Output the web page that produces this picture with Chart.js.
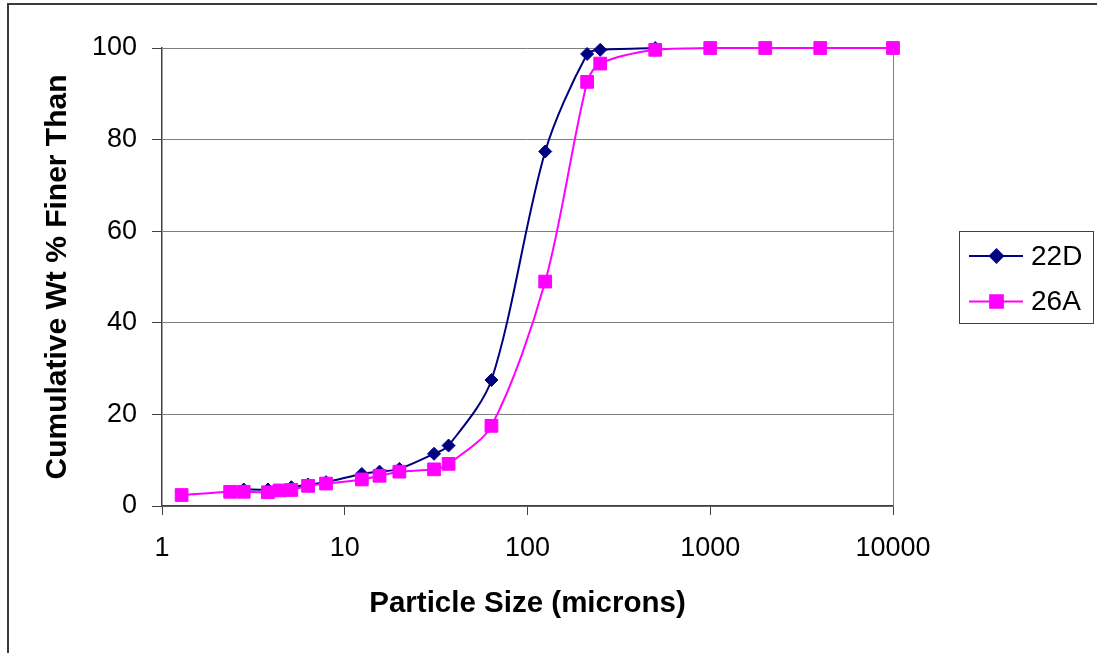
<!DOCTYPE html>
<html>
<head>
<meta charset="utf-8">
<script src="https://cdn.jsdelivr.net/npm/chart.js@4.4.1/dist/chart.umd.min.js"></script>
<style>
  html, body { margin: 0; padding: 0; background: #fff; }
  #wrap { width: 1097px; height: 653px; position: relative; }
</style>
</head>
<body>
<div id="wrap"><canvas id="psd"></canvas></div>
<script>
// particle size (microns) and cumulative wt % finer, per sample
const sizes22D = [2.8, 3.8, 5.1, 6.3, 7.9, 12.4, 15.5, 19.9, 30.8, 37, 63.5, 125, 212, 250, 500];
const finer22D = [3.6, 3.6, 4.1, 4.7, 5.2, 7.0, 7.5, 8.1, 11.4, 13.2, 27.5, 77.4, 98.7, 99.6, 100];

const sizes26A = [1.28, 2.36, 2.8, 3.8, 4.4, 5.1, 6.3, 7.9, 12.4, 15.5, 19.9, 30.8, 37, 63.5, 125, 212, 250, 500, 1000, 2000, 4000, 10000];
const finer26A = [2.4, 3.1, 3.1, 3.0, 3.4, 3.5, 4.4, 4.9, 5.8, 6.6, 7.5, 8.0, 9.2, 17.5, 49.0, 92.6, 96.6, 99.6, 100, 100, 100, 100];

const xTicks = [1, 10, 100, 1000, 10000];
const yTicks = [0, 20, 40, 60, 80, 100];

const seriesNames = ['22D', '26A'];
const seriesColors = ['#000080', '#ff00ff'];

const FONT = '"Liberation Sans", Arial, sans-serif';

const toPoints = (xs, ys) => xs.map((x, i) => ({ x: x, y: ys[i] }));

// outer frame + plot border on the right
const framePlugin = {
  id: 'frame',
  beforeDraw(chart) {
    const ctx = chart.ctx;
    ctx.save();
    ctx.fillStyle = '#fff';
    ctx.fillRect(0, 0, chart.width, chart.height);
    ctx.strokeStyle = '#3a3a3a';
    ctx.lineWidth = 2;
    ctx.beginPath();
    ctx.moveTo(8, chart.height);
    ctx.lineTo(8, 4);
    ctx.lineTo(chart.width, 4);
    ctx.stroke();
    ctx.restore();
  },
  afterDraw(chart) {
    const ctx = chart.ctx;
    const a = chart.chartArea;
    ctx.save();
    ctx.strokeStyle = '#808080';
    ctx.lineWidth = 1;
    ctx.beginPath();
    ctx.moveTo(Math.round(a.right) + 0.5, a.top);
    ctx.lineTo(Math.round(a.right) + 0.5, a.bottom);
    ctx.stroke();
    ctx.restore();
  }
};

// legend box with line + marker samples
const legendPlugin = {
  id: 'boxLegend',
  afterDraw(chart) {
    const ctx = chart.ctx;
    const bx = 959.5, by = 231.5, bw = 134, bh = 92;
    ctx.save();
    ctx.fillStyle = '#fff';
    ctx.fillRect(bx, by, bw, bh);
    ctx.strokeStyle = '#404040';
    ctx.lineWidth = 1;
    ctx.strokeRect(bx, by, bw, bh);
    ctx.font = '28px ' + FONT;
    ctx.textBaseline = 'middle';
    chart.data.datasets.slice().sort((a, b) => a.legendIdx - b.legendIdx).forEach((ds, i) => {
      const y = 256 + i * 45.5;
      ctx.strokeStyle = ds.borderColor;
      ctx.lineWidth = 2;
      ctx.beginPath();
      ctx.moveTo(969, y);
      ctx.lineTo(1023, y);
      ctx.stroke();
      ctx.fillStyle = ds.pointBackgroundColor;
      ctx.strokeStyle = ds.pointBorderColor;
      Chart.helpers.drawPoint(ctx, {
        pointStyle: ds.pointStyle,
        radius: ds.pointRadius,
        rotation: 0,
        borderWidth: 1
      }, 996.5, y);
      ctx.fillStyle = '#000';
      ctx.fillText(ds.label, 1031, y + 1);
    });
    ctx.restore();
  }
};

new Chart(document.getElementById('psd'), {
  type: 'line',
  data: {
    datasets: [
      {
        label: seriesNames[1],
        legendIdx: 1,
        order: 0,
        data: toPoints(sizes26A, finer26A),
        borderColor: seriesColors[1],
        backgroundColor: seriesColors[1],
        pointBackgroundColor: seriesColors[1],
        pointBorderColor: seriesColors[1],
        pointStyle: 'rect',
        pointRadius: 9,
        pointBorderWidth: 1,
        borderWidth: 2,
        tension: 0.3,
        clip: false
      },
      {
        label: seriesNames[0],
        legendIdx: 0,
        order: 1,
        data: toPoints(sizes22D, finer22D),
        borderColor: seriesColors[0],
        backgroundColor: seriesColors[0],
        pointBackgroundColor: seriesColors[0],
        pointBorderColor: seriesColors[0],
        pointStyle: 'rectRot',
        pointRadius: 6.5,
        pointBorderWidth: 1,
        borderWidth: 2,
        tension: 0.3,
        clip: false
      }
    ]
  },
  options: {
    responsive: true,
    maintainAspectRatio: false,
    animation: false,
    layout: { padding: { left: 0, right: 204, top: 48, bottom: 0 } },
    plugins: {
      legend: { display: false },
      tooltip: { enabled: false }
    },
    scales: {
      x: {
        type: 'logarithmic',
        min: 1,
        max: 10000,
        afterBuildTicks: (scale) => { scale.ticks = xTicks.map(v => ({ value: v })); },
        afterFit: (scale) => { scale.height = 147; },
        ticks: {
          color: '#000',
          font: { family: FONT, size: 27 },
          padding: 17,
          maxRotation: 0,
          callback: (v) => String(v)
        },
        grid: {
          drawOnChartArea: false,
          drawTicks: true,
          tickLength: 9,
          tickColor: '#404040'
        },
        border: { color: '#404040', width: 1.5 },
        title: {
          display: true,
          text: 'Particle Size (microns)',
          color: '#000',
          font: { family: FONT, size: 29.5, weight: 'bold' },
          padding: { top: 0, bottom: 31 }
        }
      },
      y: {
        min: 0,
        max: 100,
        afterBuildTicks: (scale) => { scale.ticks = yTicks.map(v => ({ value: v })); },
        afterFit: (scale) => { scale.width = 162; },
        ticks: {
          color: '#000',
          font: { family: FONT, size: 27 },
          padding: 15
        },
        grid: {
          color: '#808080',
          lineWidth: 1,
          drawTicks: true,
          tickLength: 10,
          tickColor: '#404040'
        },
        border: { color: '#404040', width: 1.5 },
        title: {
          display: true,
          text: 'Cumulative Wt % Finer Than',
          color: '#000',
          font: { family: FONT, size: 30, weight: 'bold' },
          padding: { top: 40, bottom: 0 }
        }
      }
    }
  },
  plugins: [framePlugin, legendPlugin]
});
</script>
</body>
</html>
